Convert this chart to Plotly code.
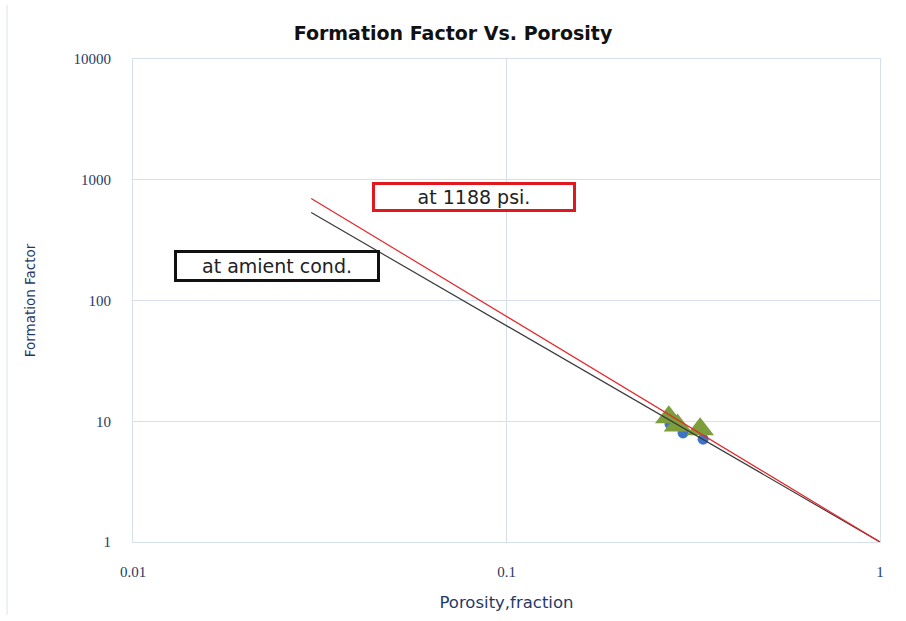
import plotly.graph_objects as go

# Archie trend lines (porosity fraction -> formation factor), endpoints on log-log axes
line_phi = [0.03, 1.0]
ff_ambient_line = [535, 1.0]
ff_1188_line = [700, 1.0]

# Core plug measurements
phi_ambient = [0.274, 0.297, 0.336]
ff_ambient = [9.5, 8.0, 7.1]
phi_1188 = [0.272, 0.287, 0.330]
ff_1188 = [10.8, 9.2, 8.6]

x_ticks = [0.01, 0.1, 1]
x_tick_text = ["0.01", "0.1", "1"]
y_ticks = [1, 10, 100, 1000, 10000]
y_tick_text = ["1", "10", "100", "1000", "10000"]

navy = "#1F3A68"
grid = "#D6E0EB"

fig = go.Figure()

fig.add_trace(go.Scatter(x=phi_ambient, y=ff_ambient, mode="markers",
                         marker=dict(symbol="circle", size=11, color="#3F74C4"),
                         showlegend=False))
fig.add_trace(go.Scatter(x=phi_1188, y=ff_1188, mode="markers",
                         marker=dict(symbol="triangle-up", size=24, color="#7E9E3E"),
                         showlegend=False))
fig.add_trace(go.Scatter(x=line_phi, y=ff_ambient_line, mode="lines",
                         line=dict(color="#3A3A3A", width=1.2), showlegend=False))
fig.add_trace(go.Scatter(x=line_phi, y=ff_1188_line, mode="lines",
                         line=dict(color="#E8262A", width=1.2), showlegend=False))

W, H = 906, 621
ml, mr, mt, mb = 133, 26, 59, 79
pw, ph = W - ml - mr, H - mt - mb


def px(x):
    return (x - ml) / pw


def py(y):
    return (H - mb - y) / ph


box_font = dict(family="DejaVu Sans, sans-serif", size=19, color="#222222")
fig.add_annotation(x=px(474), y=py(197), xref="paper", yref="paper",
                   xanchor="center", yanchor="middle",
                   text="at 1188 psi.", showarrow=False, font=box_font,
                   width=198, height=24, bordercolor="#E0191F", borderwidth=3,
                   borderpad=0, bgcolor="white")
fig.add_annotation(x=px(277), y=py(266), xref="paper", yref="paper",
                   xanchor="center", yanchor="middle",
                   text="at amient cond.", showarrow=False, font=box_font,
                   width=200, height=26, bordercolor="#111111", borderwidth=3,
                   borderpad=0, bgcolor="white")

# faint chart-area frame on the left
fig.add_shape(type="line", xref="paper", yref="paper",
              x0=px(7), x1=px(7), y0=py(615), y1=py(5),
              line=dict(color="#DCE3EC", width=1))

fig.update_layout(
    width=W, height=H,
    margin=dict(l=ml, r=mr, t=mt, b=mb),
    paper_bgcolor="white", plot_bgcolor="white",
    title=dict(text="<b>Formation Factor Vs. Porosity</b>", x=0.5, xanchor="center",
               y=1 - 33 / H, yanchor="middle",
               font=dict(family="DejaVu Sans, sans-serif", size=19, color="#111111")),
    xaxis=dict(type="log", range=[-2, 0], tickvals=x_ticks, ticktext=x_tick_text,
               showgrid=True, gridcolor=grid, gridwidth=1, zeroline=False,
               showline=True, linecolor=grid, mirror=True, ticks="",
               ticklabelstandoff=16, automargin=False,
               tickfont=dict(family="Liberation Serif, serif", size=15, color=navy),
               title=dict(text="Porosity,fraction", standoff=17,
                          font=dict(family="DejaVu Sans, sans-serif", size=16.5, color=navy))),
    yaxis=dict(type="log", range=[0, 4], tickvals=y_ticks, ticktext=y_tick_text,
               showgrid=True, gridcolor=grid, gridwidth=1, zeroline=False,
               showline=True, linecolor=grid, mirror=True, ticks="",
               ticklabelstandoff=18, automargin=False,
               tickfont=dict(family="Liberation Serif, serif", size=15, color=navy),
               title=dict(text="Formation Factor", standoff=34,
                          font=dict(family="DejaVu Sans, sans-serif", size=13.5, color=navy))),
)

fig.write_html("out.html")
